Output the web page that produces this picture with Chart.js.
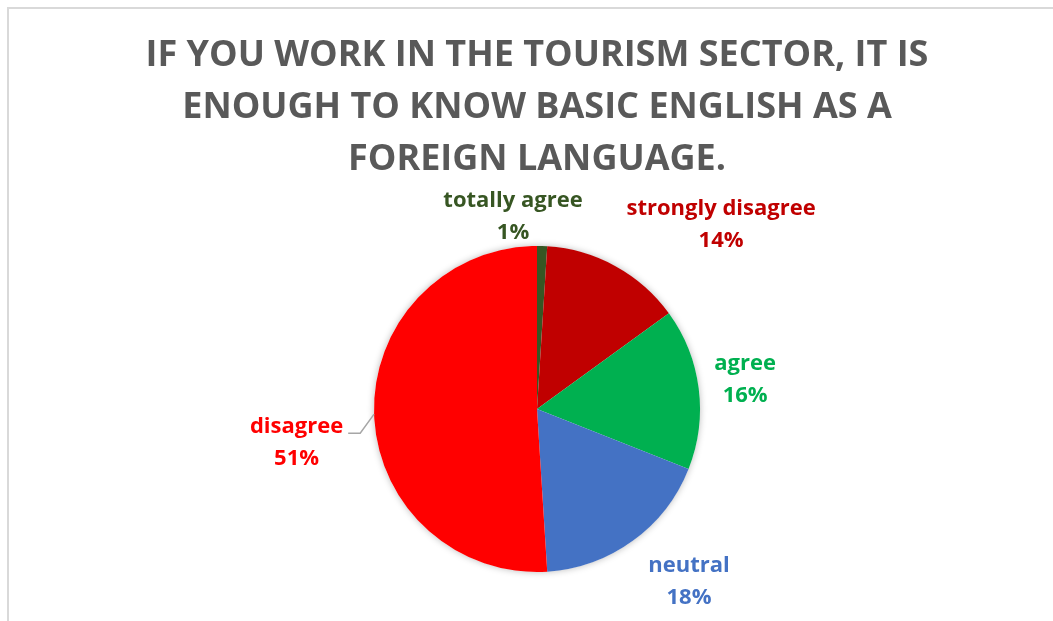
<!DOCTYPE html>
<html>
<head>
<meta charset="utf-8">
<script src="https://cdn.jsdelivr.net/npm/chart.js@4/dist/chart.umd.min.js"></script>
<style>
  html, body { margin: 0; padding: 0; background: #fff; }
  canvas { display: block; }
</style>
</head>
<body>
<canvas id="surveyPie" width="1053" height="621"></canvas>
<script>
const titleLines = [
  'IF YOU WORK IN THE TOURISM SECTOR, IT IS',
  'ENOUGH TO KNOW BASIC ENGLISH AS A',
  'FOREIGN LANGUAGE.'
];
const categories = ['totally agree', 'strongly disagree', 'agree', 'neutral', 'disagree'];
const shares = [1, 14, 16, 18, 51];
const sliceColors = ['#375623', '#C00000', '#00B050', '#4472C4', '#FF0000'];

const FONT = '"Open Sans", "Noto Sans", sans-serif';

// white page with the light grey frame line on the left and top
const framePlugin = {
  id: 'frame',
  beforeDraw(chart) {
    const ctx = chart.ctx;
    ctx.save();
    ctx.fillStyle = '#fff';
    ctx.fillRect(0, 0, chart.width, chart.height);
    ctx.strokeStyle = '#d9d9d9';
    ctx.lineWidth = 2;
    ctx.beginPath();
    ctx.moveTo(8, chart.height + 5);
    ctx.lineTo(8, 8);
    ctx.lineTo(chart.width + 5, 8);
    ctx.stroke();
    ctx.restore();
  }
};

// soft shadow under the whole pie
const pieShadow = {
  id: 'pieShadow',
  beforeDatasetsDraw(chart) {
    const arc = chart.getDatasetMeta(0).data[0];
    if (!arc) return;
    const { x, y, outerRadius } = arc.getProps(['x', 'y', 'outerRadius'], true);
    const ctx = chart.ctx;
    ctx.save();
    ctx.shadowColor = 'rgba(0,0,0,0.28)';
    ctx.shadowBlur = 7;
    ctx.fillStyle = '#fff';
    ctx.beginPath();
    ctx.arc(x, y, outerRadius, 0, Math.PI * 2);
    ctx.fill();
    ctx.restore();
  }
};

// category name + percentage outside each slice
const sliceLabels = {
  id: 'sliceLabels',
  afterDatasetsDraw(chart, args, opts) {
    const ctx = chart.ctx;
    const ds = chart.data.datasets[0];
    const total = ds.data.reduce((a, b) => a + b, 0);
    const meta = chart.getDatasetMeta(0);
    meta.data.forEach((arc, i) => {
      const { x, y, startAngle, endAngle, outerRadius } =
        arc.getProps(['x', 'y', 'startAngle', 'endAngle', 'outerRadius'], true);
      const mid = (startAngle + endAngle) / 2;
      const p = opts.placements[i];
      const a = mid + p.shift * Math.PI / 180;
      const cx = x + Math.cos(a) * outerRadius * p.dist;
      const cy = y + Math.sin(a) * outerRadius * p.dist;
      const name = chart.data.labels[i];
      const pct = Math.round(ds.data[i] / total * 100) + '%';

      ctx.save();
      ctx.font = 'bold ' + opts.size + 'px ' + opts.family;
      ctx.fillStyle = ds.backgroundColor[i];
      ctx.textAlign = 'center';
      ctx.textBaseline = 'middle';
      ctx.fillText(name, cx, cy - opts.lineHeight / 2);
      ctx.fillText(pct, cx, cy + opts.lineHeight / 2);

      if (p.leader) {
        const w = ctx.measureText(name).width;
        const endX = cx + w / 2 + 5;
        const lineY = cy - 10;
        ctx.strokeStyle = '#a6a6a6';
        ctx.lineWidth = 1.5;
        ctx.beginPath();
        ctx.moveTo(endX, lineY);
        ctx.lineTo(endX + 12, lineY);
        ctx.lineTo(x + Math.cos(mid) * outerRadius, y + Math.sin(mid) * outerRadius);
        ctx.stroke();
      }
      ctx.restore();
    });
  }
};

function drawChart() {
  new Chart(document.getElementById('surveyPie'), {
    type: 'pie',
    data: {
      labels: categories,
      datasets: [{
        data: shares,
        backgroundColor: sliceColors,
        borderWidth: 0
      }]
    },
    options: {
      responsive: false,
      animation: false,
      devicePixelRatio: 1,
      layout: {
        // wide box so the title lines are never squeezed; the pie is sized by height
        padding: { top: 20, bottom: 49, left: 21, right: 0 }
      },
      plugins: {
        legend: { display: false },
        tooltip: { enabled: false },
        title: {
          display: true,
          text: titleLines,
          color: '#595959',
          font: { family: FONT, size: 36, weight: 'bold', lineHeight: 52 / 36 },
          padding: { top: 10, bottom: 60 }
        },
        sliceLabels: {
          family: FONT,
          size: 22,
          lineHeight: 32,
          placements: [
            { dist: 1.19, shift: -8.9 },
            { dist: 1.60, shift: 16.1 },
            { dist: 1.29, shift: -0.9 },
            { dist: 1.41, shift: -5.4 },
            { dist: 1.49, shift: -6.3, leader: true }
          ]
        }
      }
    },
    plugins: [framePlugin, pieShadow, sliceLabels]
  });
}

Promise.all([
  document.fonts.load('bold 36px "Open Sans"'),
  document.fonts.load('bold 22px "Open Sans"')
]).then(drawChart, drawChart);
</script>
</body>
</html>
